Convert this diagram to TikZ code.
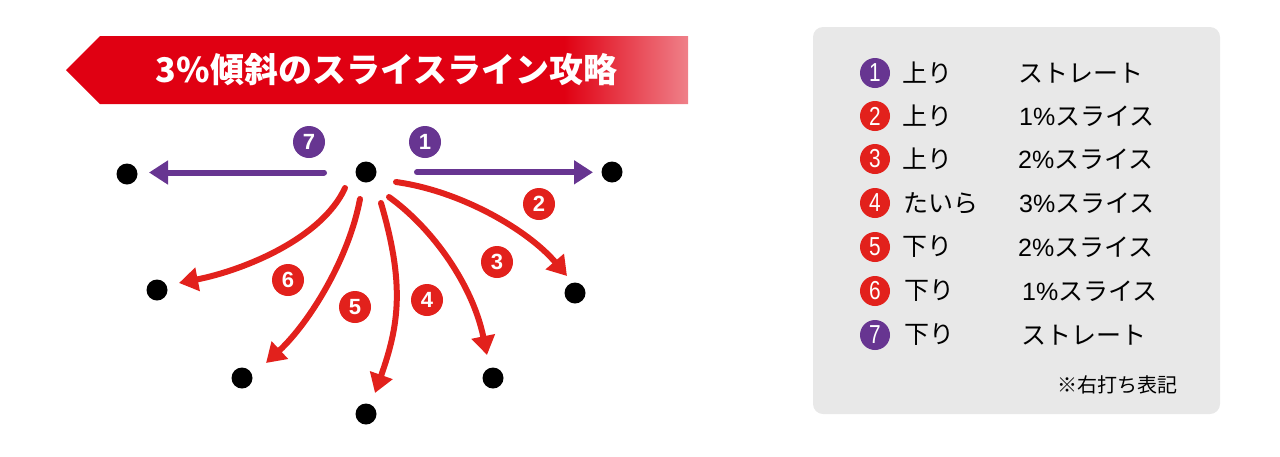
\documentclass[tikz,border=0pt]{standalone}
\usepackage{fontspec}
\setmainfont{Liberation Sans}
\newfontfamily\jp{Noto Sans CJK JP}
\usetikzlibrary{arrows.meta}
\definecolor{pur}{HTML}{673591}
\definecolor{rd}{HTML}{E2211C}
\definecolor{ban}{HTML}{E00012}
\definecolor{pinkend}{HTML}{EF8089}
\definecolor{lg}{HTML}{E8E8E8}
\pgfdeclarehorizontalshading{bannershade}{100bp}{color(0bp)=(ban); color(65bp)=(ban); color(75bp)=(pinkend); color(100bp)=(pinkend)}
\tikzset{
  dot/.style={circle,fill=black,minimum size=21pt,inner sep=0pt},
  badge/.style={circle,minimum size=32pt,inner sep=0pt,text=white,font=\fontsize{22}{22}\selectfont\bfseries},
  legbadge/.style={circle,minimum size=30pt,inner sep=0pt,text=white,font=\fontsize{26}{26}\selectfont},
  legtext/.style={anchor=west,inner sep=0pt,font=\jp\fontsize{25}{25}\selectfont},
  arr/.style={line width=6pt,line cap=round,-{Triangle[length=19pt,width=23pt]}},
}
\begin{document}
\begin{tikzpicture}[x=1pt,y=-1pt]
\useasboundingbox (0,0) rectangle (1280,456);
% banner
\path[shading=bannershade] (66,70) -- (100,36) -- (688,36) -- (688,104) -- (100,104) -- cycle;
\node[text=white,font=\jp\bfseries\fontsize{34}{34}\selectfont,inner sep=0pt] (title) at (386.5,70) {3\%傾斜のスライスライン攻略};
% dots
\node[dot] (c) at (366,172) {};
\node[dot] (d1) at (612,172) {};
\node[dot] (d7) at (127,174) {};
\node[dot] (d2) at (575,293) {};
\node[dot] (d6) at (157,290) {};
\node[dot] (d3) at (493,378) {};
\node[dot] (d5) at (242,378) {};
\node[dot] (d4) at (366,414) {};
% connector ends
\coordinate (s1) at (417,172.3); \coordinate (e1) at (593,172.3);
\coordinate (s7) at (324,172.5); \coordinate (e7) at (149,172.5);
\coordinate (s2) at (396,182);   \coordinate (e2) at (567,276);
\coordinate (s3) at (389,197);   \coordinate (e3) at (487,355);
\coordinate (s4) at (381,203);   \coordinate (e4) at (375,393);
\coordinate (s5) at (360,199);   \coordinate (e5) at (266,363);
\coordinate (s6) at (345,188);   \coordinate (e6) at (179,283);
\draw[arr,pur] (s1) -- (e1);
\draw[arr,pur] (s7) -- (e7);
\draw[arr,rd] (s2) .. controls (461,191) and (528,230) .. (e2);
\draw[arr,rd] (s3) .. controls (433.5,229) and (473,286) .. (e3);
\draw[arr,rd] (s4) .. controls (405,285) and (399,325) .. (e4);
\draw[arr,rd] (s5) .. controls (349,258) and (310,322) .. (e5);
\draw[arr,rd] (s6) .. controls (322,238) and (245,270) .. (e6);
% badges
\node[badge,fill=pur] (b7) at (309,142) {7};
\node[badge,fill=pur] (b1) at (425,142) {1};
\node[badge,fill=rd] (b2) at (539,204) {2};
\node[badge,fill=rd] (b3) at (497,262) {3};
\node[badge,fill=rd] (b4) at (427,300) {4};
\node[badge,fill=rd] (b5) at (355,307) {5};
\node[badge,fill=rd] (b6) at (288,280) {6};
% legend
\fill[lg,rounded corners=10pt] (813,27) rectangle (1220,414);
\foreach \i/\y/\c/\ax/\a/\bx/\b in {
  1/73/pur/902/上り/1018/ストレート,
  2/116/rd/902/上り/1019/{\fontspec{Liberation Sans}1\%}スライス,
  3/159/rd/902/上り/1018/{\fontspec{Liberation Sans}2\%}スライス,
  4/203/rd/903/たいら/1019/{\fontspec{Liberation Sans}3\%}スライス,
  5/247/rd/902/下り/1018/{\fontspec{Liberation Sans}2\%}スライス,
  6/291/rd/904/下り/1022/{\fontspec{Liberation Sans}1\%}スライス,
  7/335/pur/904/下り/1021/ストレート}{
  \node[legbadge,fill=\c] (lc\i) at (875,\y) {\scalebox{0.8}[1]{\i}};
  \node[legtext] (la\i) at (\ax,\y) {\a};
  \node[legtext] (lb\i) at (\bx,\y) {\b};
}
\node[anchor=west,inner sep=0pt,font=\jp\fontsize{20}{20}\selectfont] (note) at (1057,385) {※右打ち表記};
\end{tikzpicture}
\end{document}
